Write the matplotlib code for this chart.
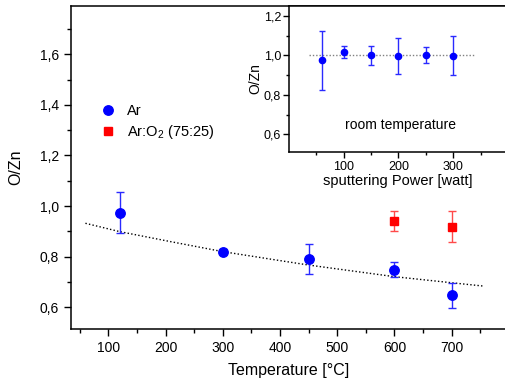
import numpy as np
import matplotlib
matplotlib.use('Agg')
import matplotlib.pyplot as plt
from matplotlib.ticker import MultipleLocator, FuncFormatter

plt.rcParams['font.family'] = ['Liberation Sans', 'DejaVu Sans']
plt.rcParams['mathtext.fontset'] = 'custom'
plt.rcParams['mathtext.rm'] = 'Liberation Sans'
plt.rcParams['mathtext.default'] = 'regular'

# main plot: O/Zn vs. deposition temperature
temp_ar = [120, 300, 450, 600, 700]
ratio_ar = [0.974, 0.820, 0.791, 0.749, 0.647]
err_ar = [0.08, 0.01, 0.06, 0.03, 0.05]

temp_aro2 = [600, 700]
ratio_aro2 = [0.940, 0.919]
err_aro2 = [0.04, 0.06]

# dotted trend line
fit_temp = [60, 120, 210, 300, 410, 450, 600, 700, 755]
fit_ratio = [0.932, 0.899, 0.859, 0.820, 0.781, 0.767, 0.721, 0.697, 0.684]

# inset: O/Zn vs. sputtering power at room temperature
power = [60, 100, 150, 200, 250, 300]
ratio_rt = [0.974, 1.015, 0.999, 0.997, 1.000, 0.998]
err_rt = [0.15, 0.03, 0.05, 0.09, 0.04, 0.10]
ref_power = [36, 340]
ref_ratio = [1.0, 1.0]

W, H = 506, 382
fig = plt.figure(figsize=(W / 100, H / 100), dpi=100)


def px_box(l, t, r, b):
    return [l / W, 1 - b / H, (r - l) / W, (b - t) / H]


def comma(v, pos):
    return f'{v:.1f}'.replace('.', ',')


ax = fig.add_axes(px_box(71, 5.7, 506, 329.3))
ax.set_xlim(34.8, 795)
ax.set_ylim(0.513, 1.792)

ax.plot(fit_temp, fit_ratio, color='black', lw=1, ls=(0, (1, 1.6)), zorder=2)
ax.errorbar(temp_ar, ratio_ar, yerr=err_ar, fmt='o', color='#0000ff', ms=6.8,
            ecolor='#2a2aff', elinewidth=1, capsize=3, capthick=1, label='Ar', zorder=3)
ax.errorbar(temp_aro2, ratio_aro2, yerr=err_aro2, fmt='s', color='#ff0000', ms=5.8,
            ecolor='#ff4a4a', elinewidth=1, capsize=3, capthick=1,
            label='Ar:O$_2$ (75:25)', zorder=3)

ax.xaxis.set_major_locator(MultipleLocator(100))
ax.xaxis.set_minor_locator(MultipleLocator(50))
ax.yaxis.set_major_locator(MultipleLocator(0.2))
ax.yaxis.set_minor_locator(MultipleLocator(0.1))
ax.yaxis.set_major_formatter(FuncFormatter(comma))
ax.tick_params(which='major', length=5, width=1, labelsize=10, direction='out')
ax.tick_params(which='minor', length=3, width=1, direction='out')
ax.spines['right'].set_visible(False)
for s in ['left', 'bottom', 'top']:
    ax.spines[s].set_linewidth(1.1)
ax.set_xlabel('Temperature [°C]', fontsize=11.5, labelpad=6)
ax.set_ylabel('O/Zn', fontsize=11.5, labelpad=12)

handles, labels = ax.get_legend_handles_labels()
handles = [h[0] for h in handles]
ax.legend(handles, labels, loc='upper left', bbox_to_anchor=(93 / W, 1 - 97 / H),
          bbox_transform=fig.transFigure, frameon=False, fontsize=10.5,
          handlelength=1.0, handletextpad=0.8, labelspacing=0.35, borderpad=0)

# inset
axi = fig.add_axes(px_box(289.3, 5.7, 506, 152.3))
axi.set_xlim(1, 396)
axi.set_ylim(0.509, 1.251)
axi.plot(ref_power, ref_ratio, color='#808080', lw=1, ls=(0, (1, 1.4)), zorder=2)
axi.errorbar(power, ratio_rt, yerr=err_rt, fmt='o', color='#0000ff', ms=4.5,
             ecolor='#2a2aff', elinewidth=1, capsize=2.5, capthick=1, zorder=3)
axi.xaxis.set_major_locator(MultipleLocator(100))
axi.xaxis.set_minor_locator(MultipleLocator(50))
axi.yaxis.set_major_locator(MultipleLocator(0.2))
axi.yaxis.set_minor_locator(MultipleLocator(0.1))
axi.yaxis.set_major_formatter(FuncFormatter(comma))
axi.tick_params(which='major', length=4, width=1, labelsize=9, direction='out', pad=2)
axi.tick_params(which='minor', length=2.5, width=1, direction='out')
axi.spines['right'].set_visible(False)
for s in ['left', 'bottom', 'top']:
    axi.spines[s].set_linewidth(1.1)
axi.set_xlabel('sputtering Power [watt]', fontsize=10.5, labelpad=1)
axi.set_ylabel('O/Zn', fontsize=10, labelpad=1)
axi.text(204, 0.649, 'room temperature', fontsize=10, ha='center', va='center')

fig.savefig('out.png', dpi=100)
